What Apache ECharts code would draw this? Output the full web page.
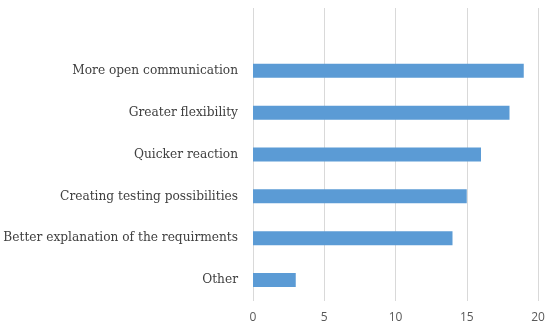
<!DOCTYPE html>
<html>
<head>
<meta charset="utf-8">
<script src="https://cdn.jsdelivr.net/npm/echarts@6/dist/echarts.min.js"></script>
<style>html,body{margin:0;padding:0;background:#fff;}#c{width:550px;height:326px;}</style>
</head>
<body>
<div id="c"></div>
<script>
const categories = ['Other', 'Better explanation of the requirments', 'Creating testing possibilities', 'Quicker reaction', 'Greater flexibility', 'More open communication', ''];
const values = [3, 14, 15, 16, 18, 19, null];
const xTicks = [0, 5, 10, 15, 20];

const chart = echarts.init(document.getElementById('c'));
chart.setOption({
  animation: false,
  grid: { left: 253, right: 12, top: 8, bottom: 25, containLabel: false, outerBoundsMode: 'none' },
  xAxis: {
    type: 'value', min: 0, max: 20, interval: 5,
    axisLine: { show: false }, axisTick: { show: false },
    splitLine: { show: true, lineStyle: { color: '#d9d9d9', width: 1 } },
    axisLabel: { color: '#595959', fontSize: 12, fontFamily: 'Open Sans, sans-serif', margin: 11,
      formatter: v => xTicks.includes(v) ? String(v) : '' }
  },
  yAxis: {
    type: 'category', data: categories,
    axisLine: { show: false }, axisTick: { show: false },
    axisLabel: { color: '#404040', fontSize: 12.2, fontFamily: 'DejaVu Serif, serif', margin: 15 }
  },
  series: [{
    type: 'bar', data: values, barWidth: 14,
    itemStyle: { color: '#5b9bd5' }
  }]
});
</script>
</body>
</html>
